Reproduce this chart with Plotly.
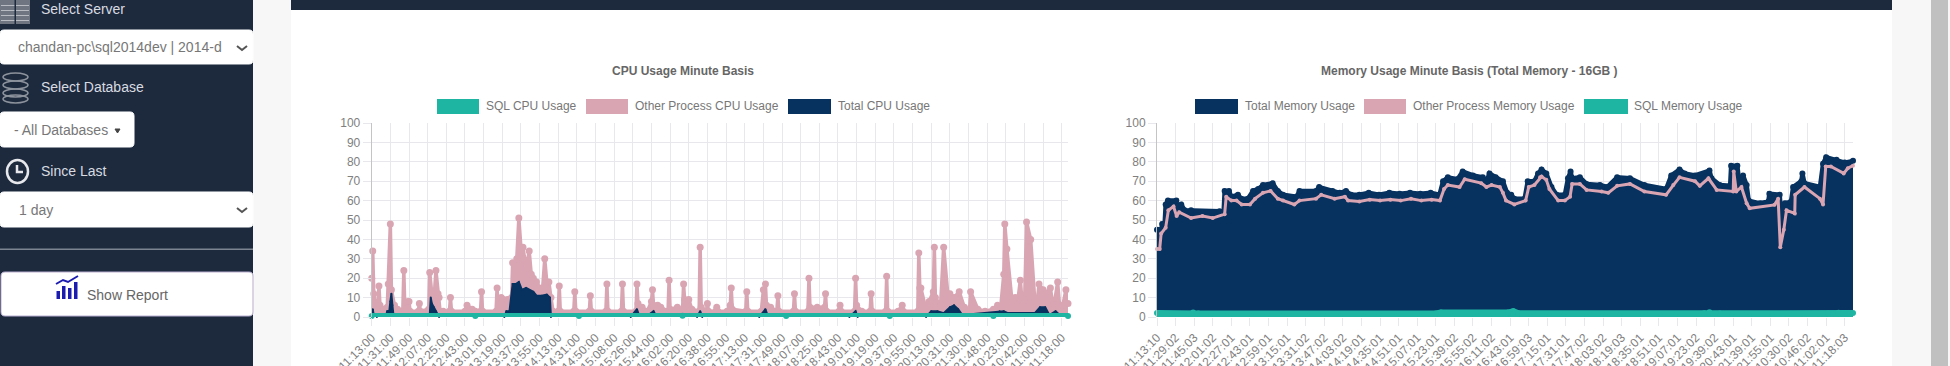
import plotly.graph_objects as go

# ---------- data ----------
cpu_labels = ["11:13:00","11:31:00","11:49:00","12:07:00","12:25:00","12:43:00","13:01:00","13:19:00","13:37:00","13:55:00",
              "14:13:00","14:31:00","14:50:00","15:08:00","15:26:00","15:44:00","16:02:00","16:20:00","16:38:00","16:55:00",
              "17:13:00","17:31:00","17:49:00","18:07:00","18:25:00","18:43:00","19:01:00","19:19:00","19:37:00","19:55:00",
              "20:13:00","20:31:00","21:30:00","21:48:00","10:23:00","10:42:00","11:00:00","11:18:00"]
mem_labels = ["11:13:10","11:29:02","11:45:03","12:01:02","12:27:01","12:43:01","12:59:01","13:15:01","13:31:02","13:47:02",
              "14:03:02","14:19:01","14:35:01","14:51:01","15:07:01","15:23:01","15:39:02","15:55:02","16:11:02","16:43:01",
              "16:59:03","17:15:01","17:31:01","17:47:02","18:03:02","18:19:03","18:35:01","18:51:01","19:07:01","19:23:02",
              "19:39:02","20:43:01","21:39:01","21:55:01","10:30:02","10:46:02","11:02:01","11:18:03"]
y_ticks = [0,10,20,30,40,50,60,70,80,90,100]

cpu_other_x = [0,1,2,4,6,7,8,12,15,16,18,19,22,25,30,31,32,35,36,37,45,46,47,55,56,58,60,62,64,65,66,69,75,76,77,
               90,92,95,97,100,105,106,107,120,121,122,125,127,129,131,135,136,137,140,142,144,146,149,152,154,156,159,162,165,167,169,171,173,175,
               180,181,182,195,196,197,210,211,212,226,227,228,241,242,243,255,256,257,261,266,270,271,272,276,279,286,287,288,295,300,301,302,306,309,316,317,318,323,324,325,
               332,333,334,343,346,347,348,361,362,363,376,378,380,381,385,391,392,393,407,408,409,421,422,423,430,437,438,439,451,452,453,466,467,468,473,481,482,483,496,497,498,
               508,512,513,527,528,529,530,534,538,542,543,544,549,552,556,557,558,562,567,572,576,577,578,585,592,600,604,607,610,611,613,618,621,623,626,628,630,632,636,640,642,644,648,650,655,657,658,662,664,667,670,672]
cpu_other_y = [20,34,12,5,7,16,6,4,5,17,48,14,6,4,3,24,4,8,8,3,3,7,3,4,23,12,8,24,12,10,3,3,3,10,3,
               3,6,4,4,3,3,13,3,3,15,3,10,9,6,9,10,28,14,30,51,36,36,25,34,22,20,18,15,15,30,18,18,10,3,
               3,16,3,3,13,3,3,11,3,3,17,3,3,17,3,3,17,7,5,3,8,14,6,6,5,3,19,4,5,4,17,9,9,4,3,36,5,3,7,3,
               3,5,3,3,6,15,4,3,13,3,3,14,17,6,5,3,11,3,3,12,3,3,20,5,5,5,12,3,3,6,3,3,20,6,3,3,12,3,3,21,3,
               3,6,3,3,33,15,15,6,8,13,36,10,6,36,12,6,12,10,13,5,3,4,13,4,3,4,6,5,22,48,35,8,10,6,19,6,5,49,40,8,6,17,14,12,15,6,4,18,5,6,14,7,12,12]
cpu_total_x = [0,1,2,3,5,14,15,16,17,18,19,20,21,56,57,58,60,62,64,65,128,130,133,136,139,142,145,149,156,159,164,169,172,173,
               250,256,258,267,272,274,314,317,319,374,380,382,461,467,469,535,540,546,552,558,562,566,570,606,610,614,640,645,650,654,660,664]
cpu_total_y = [1,4,1,1,0,1,3,3,3,8,12,6,1,1,10,7,5,3,1,0,0,3,3,17,17,18,14,15,13,11,11,11.5,10,0,
               0,4,1,1,3,1,0,3,0,0,4,1,0,3,0,0,3,3,2,5,6,4,1,3,3,2,2,5,5,1,3,1]
cpu_sql_x = [0,100,200,300,400,500,600,672]
cpu_sql_y = [0.5,0.5,0.5,0.7,0.5,0.5,0.5,0.5]

mem_total_x = [0,2.6,3,5,7.4,8.4,10.6,18.7,19.4,23.5,26.8,33,60.6,64.5,65.5,69.7,72,78.4,81.6,88,93,98,102.6,112,117,122,135,138,154,157,170,177,183,188,196,205,215,225,235,245,255,265,273.5,277,281.6,291,296,306,315.5,319,322,328,335,339,343,346,356,359,365.5,369,
               372.4,377,382,387,395,398,400.5,402,409.5,416,429,436,445.6,458,472,493,498,506,511,521,535,537,545,555,556,562,564,567.5,571,573,584,592,593,603,605,608,614,616,624,625,627,642,645,648,658,666,674]
mem_total_y = [45,45,38,48,48,58,60,60,57,58,55,55,54.5,54,65,65,62,63,61,61,65,66,68,69,65,63,62,65,65,67,65,64,65,63,63,64,63,64,63.5,64,63.5,64,63,70,72,71,75,73,72,70,74,72,70,64,63,61,61,70,70,74,
               76,74,67,63,63,71.5,75,71.5,72,68.6,68,67,72,71.5,68,66,73,76,74,73,75.5,71.5,68,67.6,78,78,69,73,68,60,58.6,59.5,63.5,63,49,58.6,59.5,67,70,74,69,67,79,82.4,81,79.6,80.5]
mem_other_x = [0,2.6,4,8.4,11,16,19,21.5,33,44,54,65.5,67,72,77,82,90,95,102.6,110,117,122,133,138,154,159,172,182,185,196,206,216,226,236,246,256,266,274,278,281.6,293,298,314,319,324,332,335,338,346,357,360,365.5,371,
               372.4,377,380,388.5,395,400,402,409.5,416,430.5,437,445.6,458,472,493,500,506,521,525.6,534,542,558,558.5,561,566,571,574,598,601.5,603.6,607,609.6,617.6,618,627,642,645,647.6,652.6,665,669,674]
mem_other_y = [35,35,43,46,55,57,52,54,51,52,51,53,62,60,60,58,58,61,64,65,61,60,58,60,61,63,61,62,60,59.5,60.5,60,60.5,60,61,60,60.5,60,66,68,67,71,69,67,68,67,64,60,58,60,67,68,72,
               72.4,70.7,66,60,60,62,68.6,68.6,65.5,64.7,64,67.6,68.6,64.7,63,68,72,70,67.6,71.5,65.5,64.7,75,64.7,67,58.6,56,57.8,61,36,45,55,53.4,63,67,61,58,77.6,77.6,74,76.7,78]
mem_sql_x = [0,35,40,270,275,340,345,350,530,535,545,650,660,674]
mem_sql_y = [2,2.3,1.8,1.8,2.3,2.3,3,1.9,1.9,2.5,1.8,1.8,2.2,2]

cpu_title = "CPU Usage Minute Basis"
mem_title = "Memory Usage Minute Basis (Total Memory - 16GB )"
cpu_legend = ["SQL CPU Usage", "Other Process CPU Usage", "Total CPU Usage"]
mem_legend = ["Total Memory Usage", "Other Process Memory Usage", "SQL Memory Usage"]

TEAL, PINK, NAVY, DARK = "#1fb5a3", "#d9a5b3", "#07315f", "#1d2a3e"
W, H = 1950, 366
FONT = "Liberation Sans"

def px(v): return v / W
def py(v): return 1 - v / H

fig = go.Figure()

def series(x, y, color, name, xa, ya, fill=True, lw=3, ms=6):
    fig.add_trace(go.Scatter(x=x, y=y, name=name, xaxis=xa, yaxis=ya, mode="lines+markers",
                             line=dict(color=color, width=lw), marker=dict(color=color, size=ms),
                             fill="tozeroy" if fill else None,
                             fillcolor=color if fill else None, cliponaxis=False, showlegend=False))

series(cpu_other_x, cpu_other_y, PINK, cpu_legend[1], "x", "y", ms=7, lw=3.5)
series(cpu_total_x, cpu_total_y, NAVY, cpu_legend[2], "x", "y", ms=2, lw=2)
series(cpu_sql_x, cpu_sql_y, TEAL, cpu_legend[0], "x", "y", ms=6, lw=6)
series(mem_total_x, mem_total_y, NAVY, mem_legend[0], "x2", "y2", ms=6, lw=4.5)
series(mem_other_x, mem_other_y, PINK, mem_legend[1], "x2", "y2", fill=False, ms=4, lw=3)
series(mem_sql_x, mem_sql_y, TEAL, mem_legend[2], "x2", "y2", ms=6, lw=6)

shapes, ann = [], []
def rect(x0, y0, x1, y1, fill, line=None, layer="below"):
    shapes.append(dict(type="rect", xref="paper", yref="paper", x0=px(x0), x1=px(x1), y0=py(y0), y1=py(y1),
                       fillcolor=fill, line=dict(color=line or fill, width=1 if line else 0), layer=layer))
def rrect(x0, y0, x1, y1, r, fill, line=None):
    def P(x, y): return f"{px(x):.5f},{py(y):.5f}"
    d = (f"M{P(x0+r,y0)} L{P(x1-r,y0)} Q{P(x1,y0)} {P(x1,y0+r)} L{P(x1,y1-r)} Q{P(x1,y1)} {P(x1-r,y1)} "
         f"L{P(x0+r,y1)} Q{P(x0,y1)} {P(x0,y1-r)} L{P(x0,y0+r)} Q{P(x0,y0)} {P(x0+r,y0)} Z")
    shapes.append(dict(type="path", xref="paper", yref="paper", path=d, fillcolor=fill,
                       line=dict(color=line or fill, width=1), layer="below"))
def path(pts, color, width=2, fill=None, close=False):
    d = "M" + " L".join(f"{px(a):.5f},{py(b):.5f}" for a, b in pts) + (" Z" if close else "")
    shapes.append(dict(type="path", xref="paper", yref="paper", path=d, fillcolor=fill or "rgba(0,0,0,0)",
                       line=dict(color=color, width=width), layer="above"))
def oval(x0, y0, x1, y1, color, width=2, fill=None):
    shapes.append(dict(type="circle", xref="paper", yref="paper", x0=px(x0), x1=px(x1), y0=py(y0), y1=py(y1),
                       fillcolor=fill or "rgba(0,0,0,0)", line=dict(color=color, width=width), layer="above"))
def text(x, y, s, size=12, color="#777777", anchor="left", bold=False):
    ann.append(dict(xref="paper", yref="paper", x=px(x), y=py(y), text=f"<b>{s}</b>" if bold else s, showarrow=False,
                    xanchor=anchor, yanchor="middle", xshift=-1, font=dict(family=FONT, size=size, color=color)))

# page regions
rect(0, 0, W, H, "#f7f7f7")
rect(291, 0, 1892, H, "#ffffff")
rect(0, 0, 253, H, DARK)
rect(291, 0, 1892, 10, DARK)
rect(1931, 0, 1948, H, "#c0c0c0")

# chart headings and legends
text(683.5, 71, cpu_title, 12, "#666666", "center", True)
text(1470, 71, mem_title, 12, "#666666", "center", True)
for x0, x1, tx, c, s in [(437,479,485,TEAL,cpu_legend[0]), (586,628,634,PINK,cpu_legend[1]), (788,831,837,NAVY,cpu_legend[2]),
                         (1195,1238,1244,NAVY,mem_legend[0]), (1364,1406,1412,PINK,mem_legend[1]), (1584,1628,1633,TEAL,mem_legend[2])]:
    rect(x0, 99, x1, 114, c)
    text(tx, 106.5, s, 12, "#777777")

# sidebar
SIDE = "#d8dbe0"
text(40, 9, "Select Server", 14, SIDE)
text(40, 87, "Select Database", 14, SIDE)
text(40, 171, "Since Last", 14, SIDE)
rrect(0, 30, 253, 64, 4, "#ffffff")
rrect(0, 112, 134, 147, 4, "#ffffff")
rrect(0, 192, 253, 227, 4, "#ffffff")
rrect(1, 272, 253, 316, 4, "#ffffff", "#b9aed0")
text(17, 47.5, "chandan-pc\\sql2014dev | 2014-d", 14, "#777777")
text(13, 130, "- All Databases", 14, "#777777")
text(18, 210, "1 day", 14, "#777777")
text(86, 295, "Show Report", 14, "#666666")
rect(219, 32, 232, 62, "#ffffff", layer="above")
for cy in (47, 209):
    path([(237, cy-1), (242, cy+3), (247, cy-1)], "#555555", 2)
path([(115, 129), (120, 129), (117.5, 133)], "#444444", 1, "#444444", True)
rect(0, 248.5, 253, 250, "#7c8391")
# icons
ICON = "#8d939c"
rect(0, 0, 30, 24, "#6f7681")
for yy in (5, 10, 15, 20):
    rect(1, yy, 29, yy+1, "#b8bcc2", layer="above")
rect(14.5, 0, 16, 24, DARK, layer="above")
for t in (73, 81, 89, 95):
    oval(3, t, 28, t+8, ICON, 1.5)
oval(7, 160, 28, 183, "#e6e8eb", 2.5)
path([(17, 165), (17, 172), (23, 172)], "#e6e8eb", 2.5)
BLUE = "#1c1cb0"
for bx, top in ((56.5, 291), (62, 286), (68, 288), (74, 282)):
    rect(bx, top, bx+3.5, 299, BLUE, layer="above")
path([(56, 284), (63, 280), (68, 282), (78, 276)], BLUE, 2)

ax = dict(showgrid=True, gridcolor="#e8e8ec", gridwidth=1, zeroline=False, automargin=False,
          ticks="outside", ticklen=8, tickcolor="#e8e8ec", showline=False,
          tickfont=dict(family=FONT, size=12, color="#808080"))
common_x = dict(ax, tickangle=-45, tickmode="array")
common_y = dict(ax, range=[0, 100], tickmode="array", tickvals=y_ticks, ticktext=[str(v) for v in y_ticks],
                domain=[py(317), py(123)], showline=True, linecolor="#c4c4c4", linewidth=1)
fig.update_layout(
    width=W, height=H, margin=dict(l=0, r=0, t=0, b=0, pad=0), autosize=False,
    paper_bgcolor="#ffffff", plot_bgcolor="rgba(0,0,0,0)", showlegend=False,
    font=dict(family=FONT), shapes=shapes, annotations=ann,
    xaxis=dict(common_x, domain=[px(371.7), px(1068)], range=[0, 672],
               tickvals=[i * 18 for i in range(len(cpu_labels))], ticktext=cpu_labels, anchor="y"),
    yaxis=dict(common_y, anchor="x"),
    xaxis2=dict(common_x, domain=[px(1157), px(1853)], range=[0, 674],
                tickvals=[i * 18 for i in range(len(mem_labels))], ticktext=mem_labels, anchor="y2"),
    yaxis2=dict(common_y, anchor="x2"),
)
fig.write_html("out.html", config=dict(displayModeBar=False),
               post_script="document.body.style.margin='0';document.body.style.overflow='hidden';")
